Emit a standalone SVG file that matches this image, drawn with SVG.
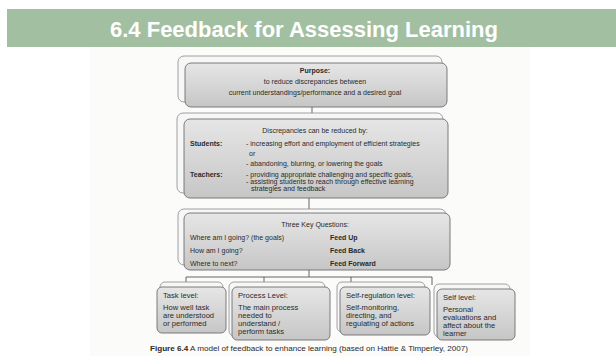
<svg xmlns="http://www.w3.org/2000/svg" width="616" height="356" viewBox="0 0 616 356">
<style>
.t{font-family:"Liberation Sans",Arial,sans-serif;fill:#2a2a2a;font-size:7px}
.b{font-weight:bold}
.s{font-family:"Liberation Sans",Arial,sans-serif;fill:#2a2a2a;font-size:7.6px}
.back{fill:#f7f7f7;stroke:#8a8a8a;stroke-width:0.8}
.front{fill:url(#g);stroke:#6e6e6e;stroke-width:0.9}
.ln{stroke:#555;stroke-width:0.9;fill:none}
</style>
<defs>
<linearGradient id="g" x1="0" y1="0" x2="0" y2="1">
<stop offset="0" stop-color="#e6e6e6"/>
<stop offset="1" stop-color="#c6c6c6"/>
</linearGradient>
</defs>
<rect x="0" y="0" width="616" height="356" fill="#ffffff"/>
<rect x="90" y="47" width="440" height="309" fill="#fbfbfa"/>
<g id="header">
<rect x="7" y="9" width="609" height="38" fill="#a2bfa1"/>
<text x="304" y="37" text-anchor="middle" font-family="Liberation Sans,Arial,sans-serif" font-weight="bold" font-size="22" fill="#ffffff">6.4 Feedback for Assessing Learning</text>
</g>
<g id="connectors">
<line class="ln" x1="312" y1="107" x2="312" y2="119"/>
<line class="ln" x1="309" y1="198" x2="309" y2="213"/>
<polyline class="ln" points="309,270 309,277"/>
<line class="ln" x1="186" y1="277" x2="432" y2="277"/>
<line class="ln" x1="186" y1="277" x2="186" y2="283"/>
<line class="ln" x1="264" y1="277" x2="264" y2="283"/>
<line class="ln" x1="351" y1="277" x2="351" y2="283"/>
<line class="ln" x1="432" y1="277" x2="432" y2="285"/>
</g>
<g id="purpose">
<rect class="back" x="178" y="56" width="264" height="46" rx="6"/>
<rect class="front" x="185" y="63" width="262" height="44" rx="6"/>
<text class="t b" x="315" y="73" text-anchor="middle">Purpose:</text>
<text class="t" x="315" y="84" text-anchor="middle">to reduce discrepancies between</text>
<text class="t" x="315" y="95" text-anchor="middle">current understandings/performance and a desired goal</text>
</g>
<g id="discrepancies">
<rect class="back" x="177" y="113" width="266" height="80" rx="6"/>
<rect class="front" x="184" y="119" width="264" height="79" rx="6"/>
<text class="t" x="315" y="133" text-anchor="middle">Discrepancies can be reduced by:</text>
<text class="t b" x="190" y="146">Students:</text>
<text class="t" x="246" y="146">- increasing effort and employment of efficient strategies</text>
<text class="t" x="249" y="156">or</text>
<text class="t" x="246" y="166">- abandoning, blurring, or lowering the goals</text>
<text class="t b" x="190" y="177">Teachers:</text>
<text class="t" x="246" y="177">- providing appropriate challenging and specific goals,</text>
<text class="t" x="246" y="184">- assisting students to reach through effective learning</text>
<text class="t" x="251" y="191">strategies and feedback</text>
</g>
<g id="questions">
<rect class="back" x="178" y="209" width="268" height="56" rx="6"/>
<rect class="front" x="184" y="213" width="266" height="57" rx="6"/>
<text class="t" x="315" y="227" text-anchor="middle">Three Key Questions:</text>
<text class="t" x="190" y="240">Where am I going? (the goals)</text>
<text class="t b" x="330" y="240">Feed Up</text>
<text class="t" x="190" y="253">How am I going?</text>
<text class="t b" x="330" y="253">Feed Back</text>
<text class="t" x="190" y="266">Where to next?</text>
<text class="t b" x="330" y="266">Feed Forward</text>
</g>
<g id="task">
<rect class="back" x="160" y="282" width="63" height="48" rx="5"/>
<rect class="front" x="157" y="287" width="69" height="46" rx="5"/>
<text class="s" x="163" y="298">Task level:</text>
<text class="s" x="163" y="310">How well task</text>
<text class="s" x="163" y="318">are understood</text>
<text class="s" x="163" y="326">or performed</text>
</g>
<g id="process">
<rect class="back" x="229" y="282" width="96" height="54" rx="5"/>
<rect class="front" x="232" y="287" width="98" height="53" rx="5"/>
<text class="s" x="238" y="298">Process Level:</text>
<text class="s" x="238" y="310">The main process</text>
<text class="s" x="238" y="318">needed to</text>
<text class="s" x="238" y="326">understand /</text>
<text class="s" x="238" y="334">perform tasks</text>
</g>
<g id="selfreg">
<rect class="back" x="337" y="282" width="88" height="50" rx="5"/>
<rect class="front" x="340" y="287" width="90" height="48" rx="5"/>
<text class="s" x="346" y="298">Self-regulation level:</text>
<text class="s" x="346" y="310">Self-monitoring,</text>
<text class="s" x="346" y="318">directing, and</text>
<text class="s" x="346" y="326">regulating of actions</text>
</g>
<g id="self">
<rect class="back" x="434" y="284" width="76" height="53" rx="5"/>
<rect class="front" x="437" y="289" width="78" height="51" rx="5"/>
<text class="s" x="443" y="300">Self level:</text>
<text class="s" x="443" y="312">Personal</text>
<text class="s" x="443" y="320">evaluations and</text>
<text class="s" x="443" y="328">affect about the</text>
<text class="s" x="443" y="336">learner</text>
</g>
<text x="150" y="351" font-family="Liberation Sans,Arial,sans-serif" font-size="7.4" fill="#2a2a2a" textLength="318" lengthAdjust="spacingAndGlyphs"><tspan font-weight="bold">Figure 6.4</tspan> A model of feedback to enhance learning (based on Hattie &amp; Timperley, 2007)</text>
</svg>
